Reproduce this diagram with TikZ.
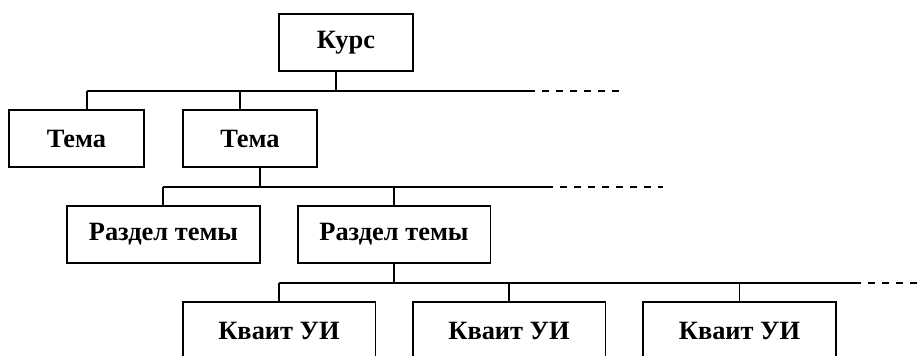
\documentclass[tikz,border=0pt]{standalone}
\usepackage{fontspec}
\setmainfont{Liberation Serif}
\usetikzlibrary{positioning, calc}
\tikzset{
  unit/.style={draw=black,line width=1.25pt,inner sep=0pt,minimum height=42.75pt,font=\bfseries\fontsize{19.8}{23}\selectfont},
  topic/.style={unit,minimum width=100.5pt},
  part/.style={unit,minimum width=144.5pt},
  link/.style={line width=1.3pt,black},
  more/.style={link,dash pattern=on 5.25pt off 5.25pt,dash phase=5.25pt},
}

\begin{document}
\begin{tikzpicture}[x=0.75pt,y=-0.75pt]
	    \useasboundingbox (0,0) rectangle (918,356);
	    \clip (0,0) rectangle (918,356);
	    % boxes
	    \node[topic] (kurs) at (346,42.5) {Курс};
	    \node[topic,minimum width=101.25pt] (tema1) at (76.5,138.5) {Тема};
	    \node[topic] (tema2) at (250,138.5) {Тема};
	    \node[part] (razdel1) at (163.5,234.5) {Раздел темы};
	    \node[part] (razdel2) at (394,234.5) {Раздел темы};
	    \node[part] (kvant1) at (279,330.5) {Кваит УИ};
	    \node[part] (kvant2) at (509,330.5) {Кваит УИ};
	    \node[part] (kvant3) at (739.5,330.5) {Кваит УИ};
	    % bus lines
	    \coordinate (b1a) at (87,91);
	    \coordinate (b1k) at (336,91);
	    \coordinate (b1t) at (240,91);
	    \coordinate (b1e) at (535,91);
	    \coordinate (b1d) at (619,91);
	    \coordinate (b2a) at (163,187);
	    \coordinate (b2t) at (260,187);
	    \coordinate (b2r) at (394,187);
	    \coordinate (b2e) at (553,187);
	    \coordinate (b2d) at (663,187);
	    \coordinate (b3a) at (279,283);
	    \coordinate (b3e) at (861,283);
	    \coordinate (b3d) at (918,283);
	    \draw[link] (b1a) -- (b1e);
	    \draw[more] (b1e) -- (b1d);
	    \draw[link] (b2a) -- (b2e);
	    \draw[more] (b2e) -- (b2d);
	    \draw[link] (b3a) -- (b3e);
	    \draw[more] (b3e) -- (b3d);
	    % stems
	    \draw[link] (kurs.south -| b1k) -- (b1k);
	    \draw[link] (b1a) -- (tema1.north -| b1a);
	    \draw[link] (b1t) -- (tema2.north -| b1t);
	    \draw[link] (tema2.south -| b2t) -- (b2t);
	    \draw[link] (b2a) -- (razdel1.north -| b2a);
	    \draw[link] (b2r) -- (razdel2.north);
	    \draw[link] (razdel2.south) -- (razdel2.south |- b3a);
	    \draw[link] (b3a) -- (kvant1.north);
	    \draw[link] (kvant2.north |- b3a) -- (kvant2.north);
	    \draw[link] (kvant3.north |- b3a) -- (kvant3.north);
	\end{tikzpicture}
\end{document}
